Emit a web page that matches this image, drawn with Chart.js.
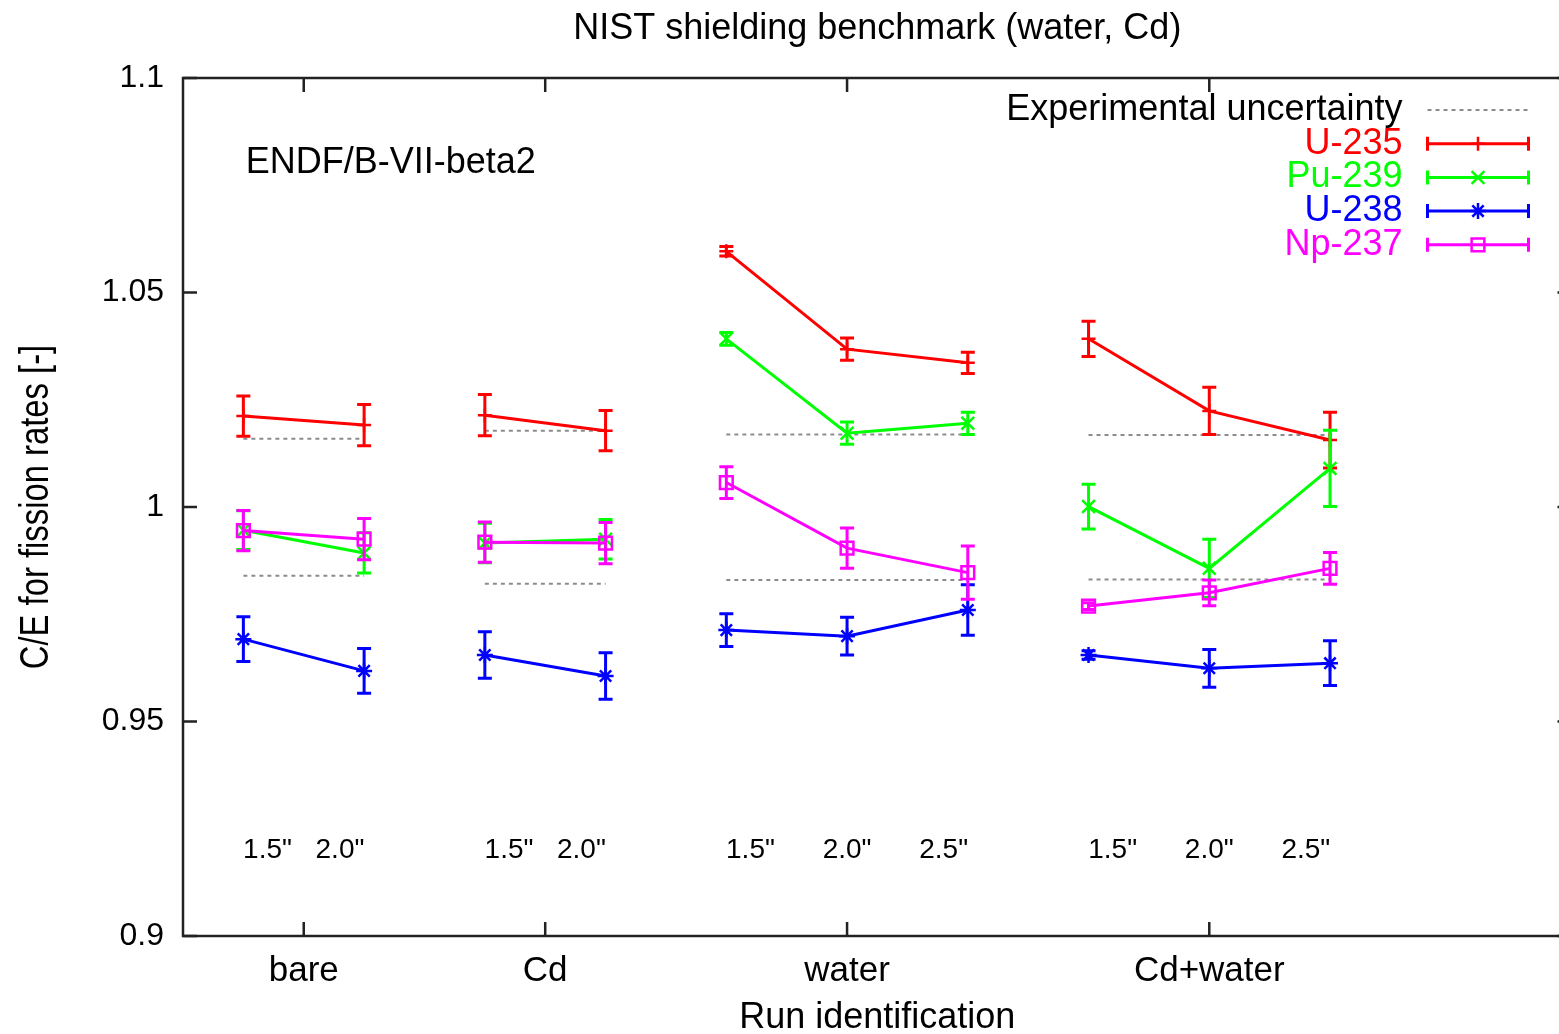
<!DOCTYPE html>
<html>
<head>
<meta charset="utf-8">
<title>NIST shielding benchmark (water, Cd)</title>
<script src="https://cdn.jsdelivr.net/npm/chart.js@4.4.1/dist/chart.umd.min.js"></script>
<style>
  html, body { margin: 0; padding: 0; background: #fff; overflow: hidden; }
  #chart { display: block; }
</style>
</head>
<body>
<canvas id="chart" width="1583" height="1034"></canvas>
<script>
// ===== DATA =====
// run positions on the x axis, and which configuration each one belongs to
const runX = [1, 2, 3, 4, 5, 6, 7, 8, 9, 10];
const runGroup = [0, 0, 1, 1, 2, 2, 2, 3, 3, 3];

// configuration tick marks on the x axis
const groupTicks = [1.5, 3.5, 6, 9];
const groupLabels = ['bare', 'Cd', 'water', 'Cd+water'];

// shield thickness labels written inside the plot
const thickLabels = ['1.5"', '2.0"', '1.5"', '2.0"', '1.5"', '2.0"', '2.5"', '1.5"', '2.0"', '2.5"'];
const thickX = [1.2, 1.8, 3.2, 3.8, 5.2, 6.0, 6.8, 8.2, 9.0, 9.8];
const thickY = 0.92;

// C/E for fission rates, with their error bars
const u235 = [1.0212, 1.0191, 1.0214, 1.0178, 1.0596, 1.0368, 1.0336, 1.0392, 1.0224, 1.0156];
const u235Err = [0.0047, 0.0048, 0.0048, 0.0047, 0.0011, 0.0026, 0.0025, 0.0041, 0.0055, 0.0065];
const pu239 = [0.9946, 0.9893, 0.9916, 0.9925, 1.0392, 1.0172, 1.0195, 1.0001, 0.9857, 1.0090];
const pu239Err = [0.0045, 0.0047, 0.0046, 0.0046, 0.0015, 0.0026, 0.0026, 0.0052, 0.0068, 0.0089];
const u238 = [0.9692, 0.9618, 0.9655, 0.9606, 0.9713, 0.9699, 0.9760, 0.9655, 0.9624, 0.9636];
const u238Err = [0.0052, 0.0052, 0.0054, 0.0054, 0.0038, 0.0044, 0.0059, 0.0010, 0.0044, 0.0052];
const np237 = [0.9945, 0.9925, 0.9918, 0.9916, 1.0057, 0.9904, 0.9847, 0.9769, 0.9800, 0.9857];
const np237Err = [0.0047, 0.0048, 0.0047, 0.0048, 0.0037, 0.0047, 0.0062, 0.0008, 0.0030, 0.0037];

// experimental uncertainty, one band per configuration
const expFrom = [1, 3, 5, 8];
const expTo = [2, 4, 7, 10];
const expUpper = [1.0159, 1.0178, 1.0169, 1.0168];
const expLower = [0.9840, 0.9821, 0.9830, 0.9831];

const libLabel = 'ENDF/B-VII-beta2';
const libLabelX = 1.02;
const libLabelY = 1.0802;

const yTitle = 'C/E for fission rates [-]';

const FONT = "'Liberation Sans', Arial, Helvetica, sans-serif";
Chart.defaults.font.family = FONT;
Chart.defaults.color = '#000';

// ===== BUILD SERIES =====
// points of one isotope, with a null between configurations so lines break
function toPoints(values, errs) {
    const pts = [];
    runX.forEach((x, i) => {
        if (i > 0 && runGroup[i] !== runGroup[i - 1]) pts.push({ x: x - 0.5, y: null });
        pts.push({ x: x, y: values[i], err: errs[i] });
    });
    return pts;
}

function expPoints() {
    const pts = [];
    expFrom.forEach((x0, g) => {
        pts.push({ x: x0, y: expUpper[g] }, { x: expTo[g], y: expUpper[g] }, { x: expTo[g], y: null });
        pts.push({ x: x0, y: expLower[g] }, { x: expTo[g], y: expLower[g] }, { x: expTo[g], y: null });
    });
    return pts;
}

function series(label, color, values, errs, style, radius, order) {
    return {
        label: label,
        data: toPoints(values, errs),
        withErrors: true,
        borderColor: color,
        backgroundColor: color,
        borderWidth: 3,
        pointStyle: style,
        pointRadius: radius,
        pointHoverRadius: radius,
        pointBorderWidth: 2.5,
        pointBorderColor: color,
        pointBackgroundColor: 'rgba(0,0,0,0)',
        tension: 0,
        order: order
    };
}

// ===== PLUGINS =====
// gnuplot-like frame with inward ticks on all four sides
const frame = {
    id: 'frame',
    beforeDatasetsDraw(chart) {
        const { ctx, chartArea: a, scales: { x, y } } = chart;
        ctx.save();
        ctx.strokeStyle = '#222';
        ctx.lineWidth = 2.5;
        ctx.strokeRect(a.left, a.top, a.right - a.left, a.bottom - a.top);
        ctx.beginPath();
        x.ticks.forEach(t => {
            const px = x.getPixelForValue(t.value);
            ctx.moveTo(px, a.bottom); ctx.lineTo(px, a.bottom - 14);
            ctx.moveTo(px, a.top); ctx.lineTo(px, a.top + 14);
        });
        y.ticks.forEach(t => {
            const py = y.getPixelForValue(t.value);
            ctx.moveTo(a.left, py); ctx.lineTo(a.left + 14, py);
            ctx.moveTo(a.right, py); ctx.lineTo(a.right - 14, py);
        });
        ctx.stroke();

        // y axis title, condensed like the original
        ctx.fillStyle = '#000';
        ctx.font = '40px ' + FONT;
        ctx.textAlign = 'center';
        ctx.textBaseline = 'middle';
        ctx.translate(37, (a.top + a.bottom) / 2);
        ctx.rotate(-Math.PI / 2);
        ctx.scale(0.82, 1);
        ctx.fillText(yTitle, 0, 0);
        ctx.restore();
    }
};

// vertical error bars with caps, drawn right after each series
const errorBars = {
    id: 'errorBars',
    afterDatasetDraw(chart, args) {
        const ds = chart.data.datasets[args.index];
        if (!ds.withErrors) return;
        const ctx = chart.ctx;
        const y = chart.scales.y;
        ctx.save();
        ctx.strokeStyle = ds.borderColor;
        ctx.lineWidth = ds.borderWidth;
        args.meta.data.forEach((pt, j) => {
            const d = ds.data[j];
            if (d.y === null || d.err == null) return;
            const top = y.getPixelForValue(d.y + d.err);
            const bot = y.getPixelForValue(d.y - d.err);
            ctx.beginPath();
            ctx.moveTo(pt.x, top); ctx.lineTo(pt.x, bot);
            ctx.moveTo(pt.x - 7, top); ctx.lineTo(pt.x + 7, top);
            ctx.moveTo(pt.x - 7, bot); ctx.lineTo(pt.x + 7, bot);
            ctx.stroke();
        });
        ctx.restore();
    }
};

// text written inside the plot
const notes = {
    id: 'notes',
    afterDatasetsDraw(chart) {
        const { ctx, scales: { x, y } } = chart;
        ctx.save();
        ctx.fillStyle = '#000';
        ctx.textBaseline = 'middle';
        ctx.textAlign = 'center';
        ctx.font = '28px ' + FONT;
        thickLabels.forEach((t, i) => {
            ctx.fillText(t, x.getPixelForValue(thickX[i]), y.getPixelForValue(thickY));
        });
        ctx.textAlign = 'left';
        ctx.font = '36px ' + FONT;
        ctx.fillText(libLabel, x.getPixelForValue(libLabelX), y.getPixelForValue(libLabelY));
        ctx.restore();
    }
};

// key in the top right corner: text on the left, sample on the right
const keyBox = {
    id: 'keyBox',
    afterDraw(chart) {
        const { ctx, chartArea: a } = chart;
        const sampleR = a.right - 43;
        const sampleL = sampleR - 101;
        const mid = (sampleL + sampleR) / 2;
        const textR = sampleL - 25;
        let yy = a.top + 32;
        ctx.save();
        ctx.font = '36px ' + FONT;
        ctx.textAlign = 'right';
        ctx.textBaseline = 'middle';
        chart.data.datasets.forEach(ds => {
            ctx.fillStyle = ds.keyColor || ds.borderColor;
            ctx.fillText(ds.label, textR, yy);
            ctx.strokeStyle = ds.borderColor;
            ctx.lineWidth = ds.borderWidth;
            ctx.setLineDash(ds.borderDash || []);
            ctx.beginPath();
            ctx.moveTo(sampleL, yy); ctx.lineTo(sampleR, yy);
            ctx.stroke();
            ctx.setLineDash([]);
            if (ds.withErrors) {
                ctx.beginPath();
                ctx.moveTo(sampleL, yy - 7); ctx.lineTo(sampleL, yy + 7);
                ctx.moveTo(sampleR, yy - 7); ctx.lineTo(sampleR, yy + 7);
                ctx.stroke();
                ctx.fillStyle = 'rgba(0,0,0,0)';
                ctx.lineWidth = ds.pointBorderWidth;
                Chart.helpers.drawPoint(ctx, {
                    pointStyle: ds.pointStyle,
                    radius: ds.pointRadius,
                    borderWidth: ds.pointBorderWidth,
                    rotation: 0
                }, mid, yy);
            }
            yy += 33.7;
        });
        ctx.restore();
    }
};

// ===== CHART =====
const datasets = [
    {
        label: 'Experimental uncertainty',
        data: expPoints(),
        keyColor: '#000',
        borderColor: '#8c8c8c',
        borderWidth: 2,
        borderDash: [4, 4],
        pointRadius: 0,
        pointHoverRadius: 0,
        order: 5
    },
    series('U-235', '#ff0000', u235, u235Err, 'cross', 7, 4),
    series('Pu-239', '#00ff00', pu239, pu239Err, 'crossRot', 9, 3),
    series('U-238', '#0000ff', u238, u238Err, 'star', 8, 2),
    series('Np-237', '#ff00ff', np237, np237Err, 'rect', 9, 1)
];

new Chart(document.getElementById('chart'), {
    type: 'line',
    data: { datasets: datasets },
    options: {
        responsive: false,
        animation: false,
        spanGaps: false,
        layout: { padding: { left: 0, right: 4, top: 0, bottom: 0 } },
        plugins: {
            legend: { display: false },
            tooltip: { enabled: false },
            title: {
                display: true,
                fullSize: false,
                text: 'NIST shielding benchmark (water, Cd)',
                color: '#000',
                font: { size: 36, weight: 'normal', lineHeight: 1.2 },
                padding: { top: 7, bottom: 27.8 }
            }
        },
        scales: {
            x: {
                type: 'linear',
                min: 0.5,
                max: 12,
                afterBuildTicks: scale => { scale.ticks = groupTicks.map(v => ({ value: v })); },
                afterFit: scale => { scale.height = 98; },
                grid: { display: false, drawTicks: false },
                border: { display: false },
                ticks: {
                    autoSkip: false,
                    maxRotation: 0,
                    padding: 14,
                    color: '#000',
                    font: { size: 35 },
                    callback: v => groupLabels[groupTicks.indexOf(v)]
                },
                title: {
                    display: true,
                    text: 'Run identification',
                    color: '#000',
                    font: { size: 36, lineHeight: 1 },
                    padding: { top: 0, bottom: -2 }
                }
            },
            y: {
                min: 0.9,
                max: 1.1,
                afterFit: scale => { scale.width = 183; },
                grid: { display: false, drawTicks: false },
                border: { display: false },
                ticks: {
                    stepSize: 0.05,
                    padding: 19,
                    color: '#000',
                    font: { size: 32 },
                    callback: v => String(Number(v.toFixed(2)))
                },
                title: { display: false }
            }
        }
    },
    plugins: [frame, errorBars, notes, keyBox]
});
</script>
</body>
</html>
